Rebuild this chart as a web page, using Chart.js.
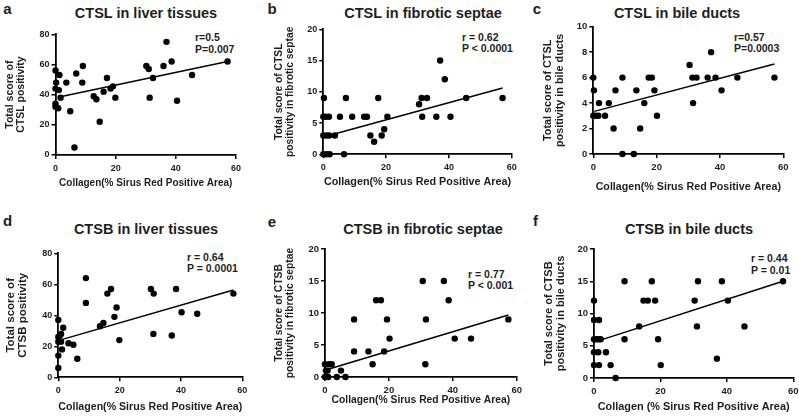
<!DOCTYPE html>
<html>
<head>
<meta charset="utf-8">
<script src="https://cdn.jsdelivr.net/npm/chart.js@4.4.1/dist/chart.umd.min.js"></script>
<style>
  html, body { margin: 0; padding: 0; background: #fff; overflow: hidden; }
  body { width: 799px; height: 419px; position: relative; font-family: "Liberation Sans", Arial, sans-serif; font-weight: bold; color: #1e1e1e; }
  .box { position: absolute; }
  .txt { position: absolute; white-space: nowrap; line-height: 1; }
  .mid { transform: translate(-50%, -50%); }
  .stat { font-size: 10.5px; line-height: 11.5px; }
</style>
</head>
<body>
<script>
// 콜라겐(%) vs 점수 — 패널별 데이터
const aX = [0, 1.3, 0.2, 0, 1.1, 1.7, 0, 0, 0.9, 3.6, 4.9, 6.9, 6.3, 9.1, 8.9, 12.7, 13.6, 14.7, 16, 17.1, 18.3, 19.1, 19.9, 30.2, 31, 31.3, 32.4, 35.9, 36.9, 38.6, 40.4, 45.4, 57.2];
const aY = [56, 53, 48, 44, 43, 38, 34, 32, 31, 48, 29, 54, 5, 59, 48, 39, 37, 22, 42, 51, 44, 45.5, 38, 59, 57, 38, 51, 59, 75, 62, 36, 53, 62];
const aLineX = [0.8, 57.2];
const aLineY = [38.3, 62];

const bX = [0.2, 0, 0.8, 1.8, 0, 1, 1.9, 0, 1, 2, 3.7, 5.3, 6.6, 7.2, 9.2, 13, 13.9, 15, 16.2, 17.5, 18.6, 19.4, 20.4, 30.5, 31.3, 31.5, 33, 36, 37.2, 38.7, 40.5, 45.5, 57.1];
const bY = [9, 6, 6, 6, 3, 3, 3, 0, 0, 0, 3, 6, 0, 9, 6, 6, 6, 3, 2, 9, 3, 4, 6, 8, 9, 6, 9, 6, 15, 12, 6, 9, 9];
const bLineX = [3.2, 57.1];
const bLineY = [3.2, 10.6];

const cX = [0, 0.2, 0, 0.7, 1.6, 1.8, 3.7, 4.9, 6.4, 7, 9.2, 9.2, 12.8, 13.6, 14.8, 16.1, 17.5, 18.5, 19.3, 20.1, 30.4, 31.3, 31.5, 32.6, 36.1, 37.2, 38.6, 40.5, 45.5, 57.2];
const cY = [6, 5, 3, 3, 3, 4, 3, 4, 2, 5, 6, 0, 0, 5, 2, 4, 6, 6, 5, 3, 7, 6, 4, 6, 6, 8, 6, 5, 6, 6];
const cLineX = [0.3, 57.2];
const cLineY = [3.35, 7.07];

const dX = [0, 0, 0, 0.5, 0.9, 0.9, 1.6, 1.2, 0, 0, 3.3, 4.9, 6.2, 9, 9, 13.6, 14.7, 16, 17.2, 18.3, 19, 19.9, 30.2, 31.1, 31, 37, 38.4, 40.2, 45.3, 57.1];
const dY = [37, 26, 23, 27, 28, 23, 32, 18, 14, 6, 22, 21, 12, 64, 48, 33, 35, 54, 57, 39, 45, 24, 57, 54, 28, 27, 57, 42, 41, 54];
const dLineX = [0.5, 57.1];
const dLineY = [24, 56.3];

const eX = [0, 0.3, 0, 1, 0.8, 1.3, 2.1, 3.7, 5, 6.4, 9.1, 9.1, 13.6, 14.9, 16, 17.5, 18.5, 19.4, 20.2, 30.6, 31.4, 31.6, 37.2, 38.7, 40.6, 45.7, 57.4];
const eY = [2, 1, 0, 0, 1, 2, 2, 0, 1, 0, 9, 4, 4, 2, 12, 12, 4, 9, 6, 15, 2, 9, 15, 12, 6, 6, 9];
const eLineX = [1, 57.4];
const eLineY = [1.2, 9.7];

const fX = [0, 0, 0, 0, 0, 0.8, 1.5, 1.5, 2, 1.3, 1.5, 3.6, 5, 6.5, 9.2, 9.2, 13.6, 14.9, 16.2, 17.4, 18.4, 19.3, 20.1, 30.3, 31, 31.3, 37, 38.5, 40.3, 45.3, 56.9];
const fY = [12, 9, 6, 4, 2, 6, 9, 6, 6, 4, 2, 4, 2, 0, 15, 6, 8, 12, 12, 15, 12, 6, 2, 12, 8, 15, 3, 15, 12, 8, 15];
const fLineX = [0.3, 56.9];
const fLineY = [5.6, 15];

const xTicks = [0, 20, 40, 60];

const INK = "#1e1e1e";
const FONT = '"Liberation Sans", Arial, sans-serif';

// 패널 배치 (픽셀 좌표: 차트 영역 L/T/R/B, 축 제목 위치)
const panels = [
  { letter: "a", lx: 7.5, ly: 7.7, title: "CTSL in liver tissues", tx: 146, ty: 13,
    L: 55.5, T: 34.3, R: 236, B: 155, yMax: 80, yStep: 20,
    yTitle: ["Total score of", "CTSL positivity"], yTitleX: 10, yFont: 10.5,
    xTitle: "Collagen(% Sirus Red Positive Area)", xTitleY: 183, xFont: 10, tick: 9,
    stat: ["r=0.5", "P=0.007"], sx: 195, sy: 38,
    xs: aX, ys: aY, fx: aLineX, fy: aLineY },
  { letter: "b", lx: 272, ly: 8, title: "CTSL in fibrotic septae", tx: 423, ty: 13,
    L: 323.3, T: 29.3, R: 511.7, B: 154.3, yMax: 20, yStep: 5,
    yTitle: ["Total score of CTSL", "positivity in fibrotic septae"], yTitleX: 279, yFont: 10.3,
    xTitle: "Collagen(% Sirus Red Positive Area)", xTitleY: 182, xFont: 10.8, tick: 9,
    stat: ["r = 0.62", "P < 0.0001"], sx: 462, sy: 37.5,
    xs: bX, ys: bY, fx: bLineX, fy: bLineY },
  { letter: "c", lx: 537, ly: 8, title: "CTSL in bile ducts", tx: 677, ty: 13,
    L: 593.3, T: 26.7, R: 783.3, B: 154, yMax: 10, yStep: 2,
    yTitle: ["Total score of CTSL", "positivity in bile ducts"], yTitleX: 548, yFont: 10.8,
    xTitle: "Collagen(% Sirus Red Positive Area)", xTitleY: 187, xFont: 10.7, tick: 9.5,
    stat: ["r=0.57", "P=0.0003"], sx: 734, sy: 37.5,
    xs: cX, ys: cY, fx: cLineX, fy: cLineY },
  { letter: "d", lx: 7.5, ly: 220, title: "CTSB in liver tissues", tx: 146, ty: 229,
    L: 58.3, T: 253.3, R: 242.3, B: 377.3, yMax: 80, yStep: 20,
    yTitle: ["Total score of", "CTSB positivity"], yTitleX: 10.5, yFont: 11.5,
    xTitle: "Collagen(% Sirus Red Positive Area)", xTitleY: 407, xFont: 11.7, tick: 9,
    stat: ["r = 0.64", "P = 0.0001"], sx: 187, sy: 257.5,
    xs: dX, ys: dY, fx: dLineX, fy: dLineY },
  { letter: "e", lx: 272, ly: 220.5, title: "CTSB in fibrotic septae", tx: 423, ty: 229,
    L: 325, T: 249, R: 516.7, B: 377, yMax: 20, yStep: 5,
    yTitle: ["Total score of CTSB", "positivity in fibrotic septae"], yTitleX: 279, yFont: 10.3,
    xTitle: "Collagen(% Sirus Red Positive Area)", xTitleY: 400, xFont: 10.3, tick: 9.5,
    stat: ["r = 0.77", "P < 0.001"], sx: 468, sy: 274.5,
    xs: eX, ys: eY, fx: eLineX, fy: eLineY },
  { letter: "f", lx: 535.5, ly: 220, title: "CTSB in bile ducts", tx: 689, ty: 229,
    L: 594, T: 249, R: 793.3, B: 378, yMax: 20, yStep: 5,
    yTitle: ["Total score of CTSB", "positivity in bile ducts"], yTitleX: 549, yFont: 11,
    xTitle: "Collagen (% Sirus Red Positive Area)", xTitleY: 407, xFont: 10.9, tick: 9.5,
    stat: ["r = 0.44", "P = 0.01"], sx: 751, sy: 259,
    xs: fX, ys: fY, fx: fLineX, fy: fLineY }
];

function addText(cls, text, x, y, size) {
  const el = document.createElement("div");
  el.className = "txt " + cls;
  el.textContent = text;
  el.style.left = x + "px";
  el.style.top = y + "px";
  if (size) el.style.fontSize = size + "px";
  document.body.appendChild(el);
  return el;
}

function makePanel(p) {
  addText("mid", p.letter, p.lx, p.ly, 15);
  addText("mid", p.title, p.tx, p.ty, 14.5);
  const st = addText("stat", "", p.sx, p.sy - 5.75);
  st.innerHTML = p.stat.join("<br>");

  const yLh = p.yFont * 1.1;
  const xLh = p.xFont * 1.1;
  const left = Math.floor(p.yTitleX - yLh / 2);
  const top = Math.floor(p.T - 8);
  const right = Math.ceil(p.R + 12);
  const bottom = Math.ceil(p.xTitleY + xLh / 2);
  const yW = p.L - left;
  const xH = bottom - p.B;

  const wrap = document.createElement("div");
  wrap.className = "box";
  wrap.style.left = left + "px";
  wrap.style.top = top + "px";
  wrap.style.width = (right - left) + "px";
  wrap.style.height = (bottom - top) + "px";
  const cv = document.createElement("canvas");
  wrap.appendChild(cv);
  document.body.appendChild(wrap);

  const tickFont = { family: FONT, size: p.tick, weight: "bold" };
  new Chart(cv, {
    type: "scatter",
    data: {
      datasets: [
        {
          data: p.xs.map((x, i) => ({ x, y: p.ys[i] })),
          pointRadius: 3.2, pointBackgroundColor: "#000", pointBorderWidth: 0,
          clip: false
        },
        {
          type: "line",
          data: p.fx.map((x, i) => ({ x, y: p.fy[i] })),
          borderColor: "#000", borderWidth: 1.5, pointRadius: 0, fill: false
        }
      ]
    },
    options: {
      responsive: true, maintainAspectRatio: false, animation: false,
      layout: { padding: { left: 0, top: p.T - top, right: right - p.R, bottom: 0 } },
      plugins: { legend: { display: false }, tooltip: { enabled: false } },
      scales: {
        x: {
          type: "linear", min: 0, max: 60,
          afterBuildTicks: (s) => { s.ticks = xTicks.map(v => ({ value: v })); },
          ticks: { color: INK, font: tickFont, padding: 4, maxRotation: 0 },
          grid: { drawOnChartArea: false, drawTicks: true, tickLength: 4, color: "#000", lineWidth: 1.5 },
          border: { color: "#000", width: 1.8 },
          title: {
            display: true, text: p.xTitle, color: INK,
            font: { family: FONT, size: p.xFont, weight: "bold", lineHeight: 1.1 },
            padding: { top: 0, bottom: bottom - (p.xTitleY + xLh / 2) }
          },
          afterFit: (s) => { s.height = xH; }
        },
        y: {
          type: "linear", min: 0, max: p.yMax,
          ticks: { stepSize: p.yStep, color: INK, font: tickFont, padding: 2 },
          grid: { drawOnChartArea: false, drawTicks: true, tickLength: 4, color: "#000", lineWidth: 1.5 },
          border: { color: "#000", width: 1.8 },
          title: {
            display: true, text: p.yTitle, color: INK,
            font: { family: FONT, size: p.yFont, weight: "bold", lineHeight: 1.1 },
            padding: { top: p.yTitleX - yLh / 2 - left, bottom: 0 }
          },
          afterFit: (s) => { s.width = yW; }
        }
      }
    }
  });
}

panels.forEach(makePanel);
</script>
</body>
</html>
